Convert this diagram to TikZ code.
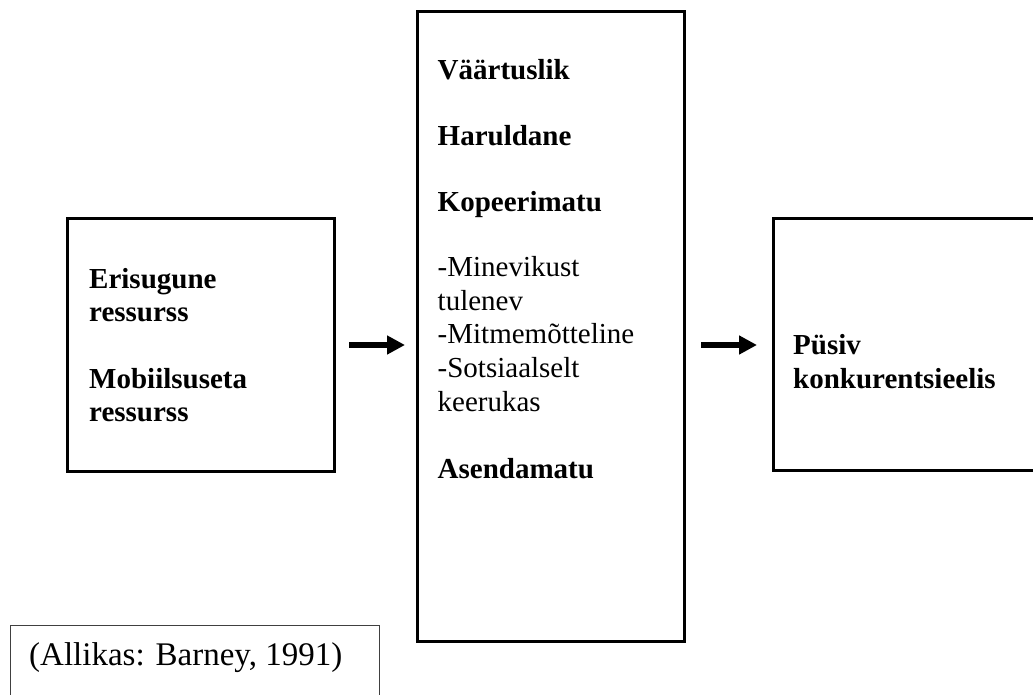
\documentclass[tikz,border=0pt]{standalone}
\usepackage{fontspec}
\setmainfont{Liberation Serif}
\usetikzlibrary{arrows.meta}
\tikzset{
  box/.style={draw=black, line width=3pt, rectangle, inner sep=0pt},
  capbox/.style={draw=black!75, line width=1.2pt, rectangle, inner sep=0pt},
  bl/.style={anchor=base west, inner sep=0pt, font=\bfseries\fontsize{29}{33}\selectfont},
  rl/.style={anchor=base west, inner sep=0pt, font=\fontsize{29}{33}\selectfont},
  cl/.style={anchor=base west, inner sep=0pt, font=\fontsize{33}{37}\selectfont},
  flow/.style={line width=6.5pt, -{Triangle[length=18pt,width=18pt]}}
}
\begin{document}
\begin{tikzpicture}[x=1pt,y=-1pt]
\useasboundingbox (0,0) rectangle (1033,695);
\clip (0,0) rectangle (1033,695);
% boxes
\node[box, minimum width=267pt, minimum height=253pt, anchor=north west] (left) at (66,217) {};
\node[box, minimum width=267pt, minimum height=630pt, anchor=north west] (mid) at (416,10) {};
\node[box, minimum width=280pt, minimum height=252pt, anchor=north west] (right) at (772,217) {};
\node[capbox, minimum width=369pt, minimum height=90pt, anchor=north west] (cap) at (9.5,625) {};
% left text
\node[bl] (l1) at (89,288.3) {Erisugune};
\node[bl] (l2) at (89,321.6) {ressurss};
\node[bl] (l3) at (89,388.3) {Mobiilsuseta};
\node[bl] (l4) at (89,421.6) {ressurss};
% middle text
\node[bl] (m1) at (437.5,80) {Väärtuslik};
\node[bl] (m2) at (437.5,145.7) {Haruldane};
\node[bl] (m3) at (437.5,211.5) {Kopeerimatu};
\node[rl] (m4) at (437.5,276.7) {-Minevikust};
\node[rl] (m5) at (437.5,310) {tulenev};
\node[rl] (m6) at (437.5,343.6) {-Mitmemõtteline};
\node[rl] (m7) at (437.5,377.2) {-Sotsiaalselt};
\node[rl] (m8) at (437.5,411.2) {keerukas};
\node[bl] (m9) at (437.5,478.3) {Asendamatu};
% right text
\node[bl] (r1) at (793,354) {Püsiv};
\node[bl] (r2) at (793,388.5) {konkurentsieelis};
% caption
\node[cl] (c1) at (29,665) {(Allikas: Barney, 1991)};
% arrows
\coordinate (a1s) at (349,345);
\coordinate (a1e) at (405,345);
\coordinate (a2s) at (701,345);
\coordinate (a2e) at (757,345);
\draw[flow] (a1s) -- (a1e);
\draw[flow] (a2s) -- (a2e);
\end{tikzpicture}
\end{document}
